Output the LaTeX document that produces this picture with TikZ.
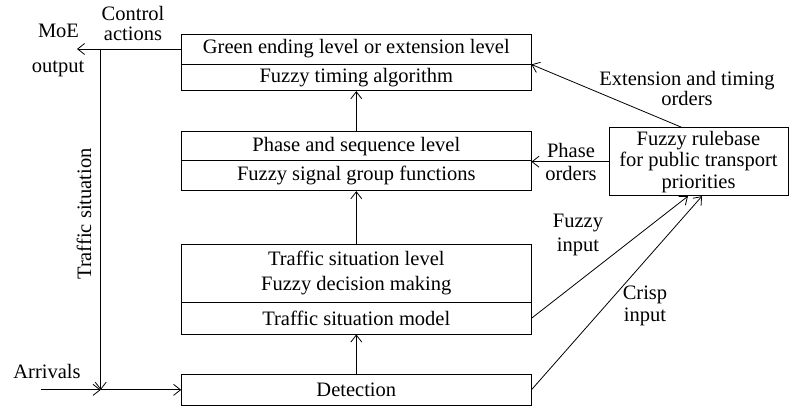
\documentclass[tikz,border=0pt]{standalone}
\usepackage{fontspec}
\setmainfont{Liberation Serif}
\usepackage{tikz}
\usetikzlibrary{arrows.meta}

\begin{document}
\begin{tikzpicture}[x=1pt, y=-1pt, >={Straight Barb[length=7pt,width=11pt]},
    level/.style={draw, line width=0.9pt, minimum width=349.3pt, inner sep=0pt,
        font=\fontsize{20.5}{25}\selectfont, align=center},
    note/.style={font=\fontsize{20.5}{21}\selectfont, align=center, inner sep=0pt},
    link/.style={->, line width=0.8pt}]
        \useasboundingbox (0,0) rectangle (790,409);
        % Control levels
        \node[level, minimum height=30pt] (green) at (356.3,49) {Green ending level or extension level};
        \node[level, minimum height=26.7pt] (timing) at (356.3,77.35) {Fuzzy timing algorithm};
        \node[level, minimum height=29pt] (phase) at (356.3,146.2) {Phase and sequence level};
        \node[level, minimum height=30pt] (signal) at (356.3,175.7) {Fuzzy signal group functions};
        \node[level, minimum height=58.7pt] (decision) at (356.3,273.35) {Traffic situation level\\Fuzzy decision making};
        \node[level, minimum height=31.3pt] (model) at (356.3,318.35) {Traffic situation model};
        \node[level, minimum height=31.7pt] (detect) at (356.3,389.85) {Detection};
        \node[level, minimum width=179pt, minimum height=68pt,
            font=\fontsize{20.5}{21.5}\selectfont] (rule) at (698.5,161.7)
            {Fuzzy rulebase\\for public transport\\priorities};
        % Free ends
        \coordinate (moe) at (77,49);
        \coordinate (topjoin) at (100.7,49);
        \coordinate (botjoin) at (100.7,389.85);
        \coordinate (arrin) at (41,389.85);
        % Connectors
        \draw[link] (green.west) -- (moe);
        \draw[link] (topjoin) -- (botjoin);
        \draw[link] (arrin) -- (botjoin);
        \draw[link] (botjoin) -- (detect.west);
        \draw[link] (detect.north) -- (model.south);
        \draw[link] (decision.north) -- (signal.south);
        \draw[link] (phase.north) -- (timing.south);
        \draw[link] (rule.west) -- (rule.west -| phase.south east);
        \draw[link] ([xshift=-17pt]rule.north) -- (green.south east);
        \draw[link] (model.east) -- ([xshift=-10.5pt]rule.south);
        \draw[link] (detect.east) -- ([xshift=3.5pt]rule.south);
        % Labels
        \node[note, anchor=base] (moelbl) at (58.5,37.7) {MoE};
        \node[note, anchor=base] (outlbl) at (58,72.7) {output};
        \node[note, font=\fontsize{20.5}{19.5}\selectfont] (ctrllbl) at (133,23.4) {Control\\actions};
        \node[note, rotate=90, anchor=base] (sitlbl) at (91,214) {Traffic situation};
        \node[note, anchor=base] (arrlbl) at (47,378) {Arrivals};
        \node[note, font=\fontsize{20.5}{20}\selectfont] (extlbl) at (687,88) {Extension and timing\\orders};
        \node[note, font=\fontsize{20.5}{23}\selectfont] (phlbl) at (571,161.5) {Phase\\orders};
        \node[note, font=\fontsize{20.5}{24}\selectfont] (fuzlbl) at (578,235) {Fuzzy\\input};
        \node[note, font=\fontsize{20.5}{22}\selectfont] (crlbl) at (645,306) {Crisp\\input};
\end{tikzpicture}
\end{document}
